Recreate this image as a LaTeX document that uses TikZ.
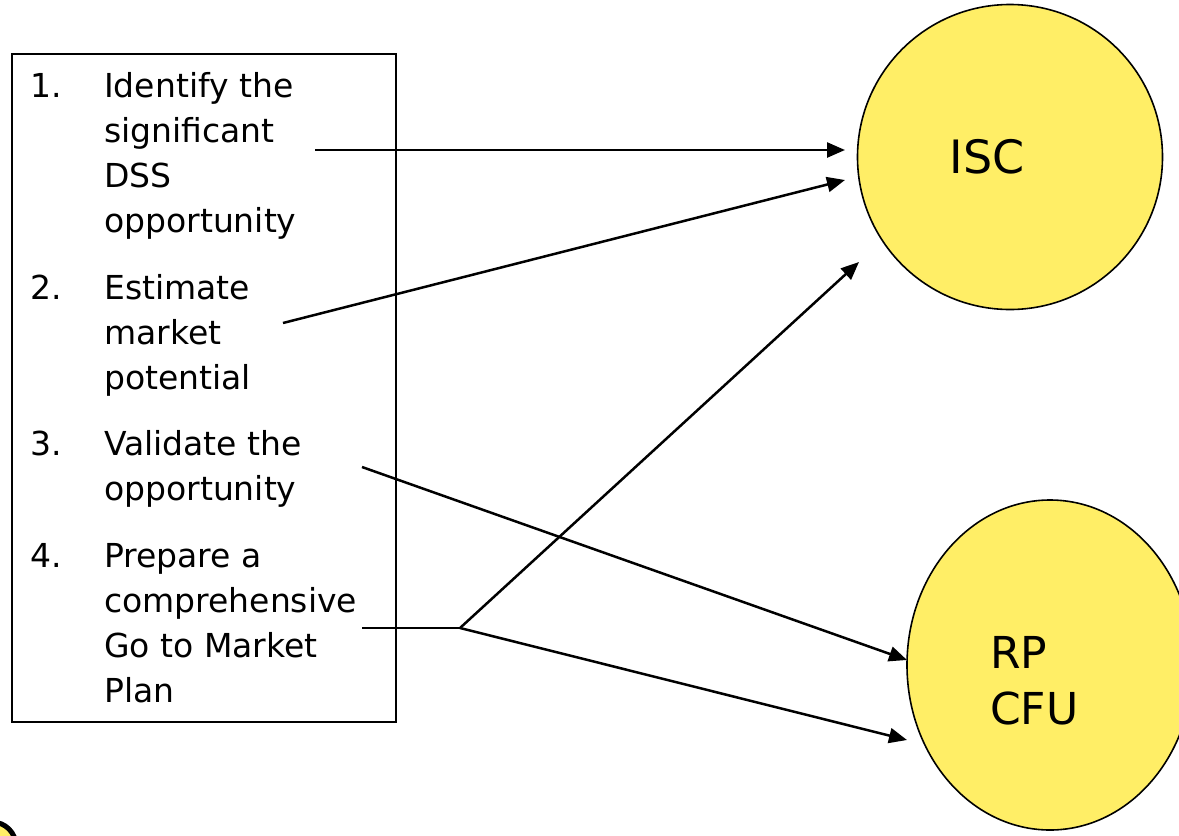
\documentclass[tikz,border=0pt]{standalone}
\usepackage{fontspec}
\setmainfont{DejaVu Sans}
\usetikzlibrary{arrows.meta}
\definecolor{sun}{RGB}{255,238,102}
\newcommand{\steplines}[1]{\begin{tabular}[t]{@{}l@{}}#1\end{tabular}}
\begin{document}
\begin{tikzpicture}[x=1pt,y=-1pt,
  itemtxt/.style={anchor=base west,inner sep=0pt,
    font=\fontsize{33}{45}\selectfont},
  itemnum/.style={anchor=base west,inner sep=0pt,
    font=\fontsize{33}{45}\selectfont},
  blob/.style={draw=black,line width=1.6pt,fill=sun},
  link/.style={line width=2.5pt,-{Triangle[length=18pt,width=15pt]}},
  plain/.style={line width=2.5pt}]
\useasboundingbox (0,0) rectangle (1179,836);
\clip (0,0) rectangle (1179,836);

% list of steps
\node[draw,line width=2.2pt,minimum width=384pt,minimum height=668pt,
  anchor=north west,inner sep=0pt] (box) at (11,53) {};
\node[itemnum] (n1) at (30,97) {1.};
\node[itemtxt] (t1) at (104,97) {\steplines{Identify the\\significant\\DSS\\opportunity}};
\node[itemnum] (n2) at (30,299) {2.};
\node[itemtxt] (t2) at (104,299) {\steplines{Estimate\\market\\potential}};
\node[itemnum] (n3) at (30,455) {3.};
\node[itemtxt] (t3) at (104,455) {\steplines{Validate the\\opportunity}};
\node[itemnum] (n4) at (30,567) {4.};
\node[itemtxt] (t4) at (104,567) {\steplines{Prepare a\\comprehensive\\Go to Market\\Plan}};

% target groups
\node[blob,circle,minimum size=305pt,inner sep=0pt] (isc) at (1010,157) {};
\node[font=\fontsize{46}{46}\selectfont] (isclbl) at (987,157) {ISC};
\draw[blob] (1050,665) ellipse [x radius=143, y radius=165];
\coordinate (rp) at (1050,665);
\node[anchor=base west,inner sep=0pt,
  font=\fontsize{44}{56}\selectfont] (rplbl) at (990,668) {\begin{tabular}[t]{@{}l@{}}RP\\CFU\end{tabular}};

% connector end points
\coordinate (s1) at (315,150);
\coordinate (s2) at (283,323);
\coordinate (s3) at (362,467);
\coordinate (s4) at (362,628);
\coordinate (fork) at (460,628);
\coordinate (e1) at (845,150);
\coordinate (e2) at (845,180);
\coordinate (e4a) at (859,262);
\coordinate (e3) at (907,660);
\coordinate (e4b) at (907,740);

\draw[link] (s1) -- (e1);
\draw[link] (s2) -- (e2);
\draw[link] (s3) -- (e3);
\draw[plain] (s4) -- (fork);
\draw[link] (fork) -- (e4a);
\draw[link] (fork) -- (e4b);

% corner of a shape at the lower left edge
\draw[line width=5pt,fill=sun] (-8,846) circle [radius=24];
\end{tikzpicture}
\end{document}
